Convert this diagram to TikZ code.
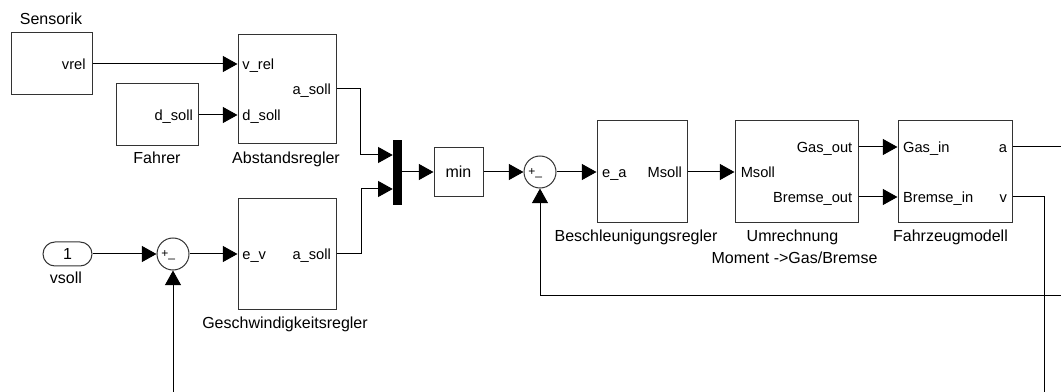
\documentclass[tikz,border=0pt]{standalone}
\usepackage{fontspec}
\setmainfont{Liberation Sans}
\usetikzlibrary{arrows.meta}

\begin{document}
\begin{tikzpicture}[x=0.75pt,y=-0.75pt,
  blk/.style={draw=black!80, line width=0.75pt, inner sep=0pt, fill=white},
  sig/.style={line width=0.75pt, -{Triangle[length=11pt,width=12pt]}},
  wire/.style={line width=0.75pt},
  port/.style={font=\fontsize{11}{13}\selectfont, text height=7.9pt, text depth=0pt, inner sep=0pt},
  bname/.style={font=\fontsize{12}{14}\selectfont, inner sep=0pt, anchor=base},
  sumblk/.style={circle, draw=black!80, line width=0.75pt, minimum size=24pt, inner sep=0pt},
  sgn/.style={font=\fontsize{9}{9}\selectfont, inner sep=0pt, anchor=base west}
]
\useasboundingbox (0,0) rectangle (1061,392);

% blocks
\node[blk, minimum width=60.75pt, minimum height=46.5pt] (sens) at (51.5,64) {};
\node[blk, minimum width=61.5pt, minimum height=46.5pt] (fahrer) at (157,115) {};
\node[blk, minimum width=73.5pt, minimum height=81.75pt] (abst) at (287,89) {};
\node[blk, minimum width=73.5pt, minimum height=83.25pt] (gesch) at (287,254) {};
\node[draw=black, fill=black, inner sep=0pt, minimum width=6pt, minimum height=48pt] (mux) at (397,172) {};
\node[blk, minimum width=36.75pt, minimum height=36.75pt, font=\fontsize{12}{14}\selectfont] (minb) at (458.5,172) {min};
\node[sumblk] (sum1) at (540,172) {};
\node[blk, minimum width=67.5pt, minimum height=76.5pt] (besch) at (642,172) {};
\node[blk, minimum width=92.25pt, minimum height=76.5pt] (umr) at (796.5,172) {};
\node[blk, minimum width=85.5pt, minimum height=76.5pt] (fzm) at (955,172) {};
\node[blk, rounded corners=9pt, minimum width=36.75pt, minimum height=18pt, font=\fontsize{12}{14}\selectfont] (vsoll) at (67.5,254) {1};
\node[sumblk] (sum2) at (173,254) {};

% sum signs
\node[sgn] at (528,175.5) {+\_};
\node[sgn] at (161,257.5) {+\_};

% port labels
\node[port, anchor=east] at ([xshift=-5pt]sens.east) {vrel};
\node[port, anchor=east] at ([xshift=-4pt]fahrer.east) {d\_soll};
\node[port, anchor=west] at ([xshift=3.5pt]abst.west |- sens.east) {v\_rel};
\node[port, anchor=west] at ([xshift=3.5pt]abst.west |- fahrer.east) {d\_soll};
\node[port, anchor=east] at ([xshift=-4pt]abst.east) {a\_soll};
\node[port, anchor=west] at ([xshift=3.5pt]gesch.west) {e\_v};
\node[port, anchor=east] at ([xshift=-4pt]gesch.east) {a\_soll};
\node[port, anchor=west] at ([xshift=4pt]besch.west) {e\_a};
\node[port, anchor=east] at ([xshift=-4pt]besch.east) {Msoll};
\node[port, anchor=west] at ([xshift=4.5pt]umr.west) {Msoll};
\node[port, anchor=east] at ([xshift=-4.5pt,yshift=18.75pt]umr.east) {Gas\_out};
\node[port, anchor=east] at ([xshift=-4.5pt,yshift=-18.75pt]umr.east) {Bremse\_out};
\node[port, anchor=west] at ([xshift=4pt,yshift=18.75pt]fzm.west) {Gas\_in};
\node[port, anchor=west] at ([xshift=4pt,yshift=-18.75pt]fzm.west) {Bremse\_in};
\node[port, anchor=east] at ([xshift=-4pt,yshift=18.75pt]fzm.east) {a};
\node[port, anchor=east] at ([xshift=-4pt,yshift=-18.75pt]fzm.east) {v};

% block names
\node[bname] (nsens) at (51,25) {Sensorik};
\node[bname] (nfahrer) at (157,164) {Fahrer};
\node[bname] (nabst) at (286,164) {Abstandsregler};
\node[bname] (ngesch) at (285,329) {Geschwindigkeitsregler};
\node[bname] (nvsoll) at (66,284) {vsoll};
\node[bname] (nbesch) at (636,242) {Beschleunigungsregler};
\node[bname] (numr) at (792.5,242) {Umrechnung};
\node[bname] (numr2) at (794.5,263) {Moment ->Gas/Bremse};
\node[bname] (nfzm) at (950.5,242) {Fahrzeugmodell};

% free ends at the edge of the sheet
\coordinate (aout) at (1061,147);
\coordinate (vdown) at (1044,392);
\coordinate (fbin) at (1061,295);
\coordinate (fb2) at (173,392);

% signal lines
\draw[sig] (sens.east) -- (abst.west |- sens.east);
\draw[sig] (fahrer.east) -- (abst.west |- fahrer.east);
\draw[sig] (abst.east) -- ++(24,0) |- ([yshift=12.75pt]mux.west);
\draw[sig] (gesch.east) -- ++(25,0) |- ([yshift=-12.75pt]mux.west);
\draw[sig] (mux.east) -- (minb.west);
\draw[sig] (minb.east) -- (sum1.west);
\draw[sig] (sum1.east) -- (besch.west);
\draw[sig] (besch.east) -- (umr.west);
\draw[sig] ([yshift=18.75pt]umr.east) -- ([yshift=18.75pt]fzm.west);
\draw[sig] ([yshift=-18.75pt]umr.east) -- ([yshift=-18.75pt]fzm.west);
\draw[wire] ([yshift=18.75pt]fzm.east) -- (aout);
\draw[wire] ([yshift=-18.75pt]fzm.east) -| (vdown);
\draw[sig] (fbin) -| (sum1.south);
\draw[sig] (vsoll.east) -- (sum2.west);
\draw[sig] (sum2.east) -- (gesch.west |- sum2.east);
\draw[sig] (fb2) -- (sum2.south);
\end{tikzpicture}
\end{document}
